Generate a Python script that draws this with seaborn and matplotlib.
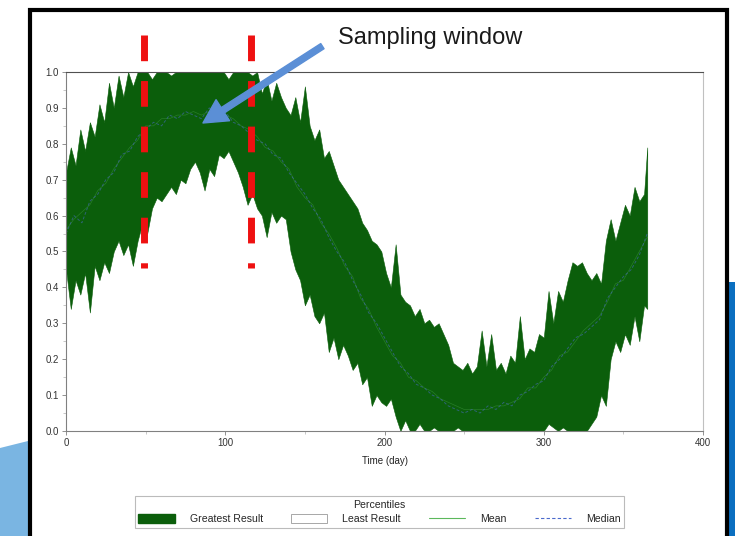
import matplotlib
matplotlib.use("Agg")
import matplotlib.pyplot as plt
from matplotlib.patches import Patch, Rectangle, Polygon
from matplotlib.lines import Line2D
import numpy as np
import pandas as pd
import seaborn as sns

sns.set_theme(style="white")
plt.rcParams["font.family"] = ["Liberation Sans", "DejaVu Sans"]

# percentile band, read every 3 days (last point is day 365)
band_days = list(range(0, 364, 3)) + [365]
greatest = [
    0.72, 0.79, 0.74, 0.84, 0.78, 0.86, 0.82, 0.91, 0.86, 0.97,
    0.90, 0.99, 0.93, 1.00, 0.96, 1.00, 1.00, 1.00, 0.98, 1.00,
    1.00, 1.00, 0.99, 1.00, 1.00, 1.00, 1.00, 1.00, 1.00, 1.00,
    1.00, 1.00, 1.00, 1.00, 0.98, 1.00, 1.00, 1.00, 1.00, 0.99,
    1.00, 0.94, 0.98, 0.92, 0.97, 0.93, 0.90, 0.88, 0.93, 0.86,
    0.96, 0.85, 0.81, 0.84, 0.76, 0.78, 0.74, 0.70, 0.68, 0.66,
    0.64, 0.62, 0.58, 0.56, 0.53, 0.52, 0.50, 0.44, 0.40, 0.52,
    0.38, 0.36, 0.35, 0.32, 0.34, 0.30, 0.31, 0.29, 0.30, 0.27,
    0.24, 0.19, 0.18, 0.17, 0.19, 0.16, 0.18, 0.28, 0.18, 0.27,
    0.17, 0.19, 0.16, 0.21, 0.19, 0.32, 0.20, 0.23, 0.22, 0.27,
    0.26, 0.39, 0.30, 0.39, 0.36, 0.42, 0.47, 0.46, 0.47, 0.44,
    0.42, 0.44, 0.41, 0.53, 0.59, 0.53, 0.58, 0.63, 0.60, 0.68,
    0.64, 0.66, 0.79,
]
least = [
    0.45, 0.34, 0.42, 0.38, 0.44, 0.33, 0.46, 0.42, 0.47, 0.44,
    0.50, 0.53, 0.49, 0.52, 0.46, 0.53, 0.58, 0.55, 0.62, 0.65,
    0.64, 0.66, 0.68, 0.66, 0.70, 0.69, 0.73, 0.75, 0.72, 0.67,
    0.73, 0.71, 0.77, 0.76, 0.78, 0.75, 0.72, 0.68, 0.63, 0.66,
    0.62, 0.60, 0.54, 0.61, 0.58, 0.60, 0.59, 0.50, 0.45, 0.42,
    0.35, 0.38, 0.32, 0.30, 0.33, 0.22, 0.26, 0.20, 0.24, 0.21,
    0.17, 0.19, 0.13, 0.15, 0.07, 0.10, 0.08, 0.07, 0.09, 0.04,
    0.00, 0.03, 0.00, 0.00, 0.02, 0.00, 0.00, 0.01, 0.00, 0.00,
    0.00, 0.00, 0.01, 0.00, 0.00, 0.00, 0.00, 0.00, 0.00, 0.00,
    0.00, 0.00, 0.00, 0.00, 0.00, 0.00, 0.00, 0.00, 0.00, 0.00,
    0.00, 0.02, 0.01, 0.00, 0.01, 0.00, 0.00, 0.00, 0.00, 0.00,
    0.02, 0.04, 0.10, 0.07, 0.20, 0.25, 0.22, 0.27, 0.24, 0.32,
    0.25, 0.35, 0.34,
]

# mean / median, read every 5 days
line_days = list(range(0, 366, 5))
median = [
    0.55, 0.60, 0.58, 0.64, 0.66, 0.70, 0.72, 0.77, 0.78, 0.82,
    0.84, 0.86, 0.85, 0.88, 0.87, 0.89, 0.88, 0.87, 0.90, 0.88,
    0.89, 0.86, 0.85, 0.83, 0.81, 0.80, 0.77, 0.76, 0.72, 0.69,
    0.66, 0.62, 0.59, 0.54, 0.50, 0.47, 0.42, 0.38, 0.33, 0.30,
    0.26, 0.22, 0.18, 0.16, 0.13, 0.12, 0.10, 0.09, 0.07, 0.06,
    0.05, 0.06, 0.05, 0.07, 0.06, 0.08, 0.07, 0.10, 0.11, 0.13,
    0.14, 0.18, 0.20, 0.23, 0.26, 0.27, 0.29, 0.31, 0.37, 0.40,
    0.43, 0.45, 0.49, 0.55,
]
mean = [
    0.56, 0.59, 0.61, 0.63, 0.67, 0.69, 0.73, 0.76, 0.79, 0.81,
    0.85, 0.85, 0.87, 0.87, 0.88, 0.88, 0.89, 0.88, 0.89, 0.89,
    0.88, 0.87, 0.85, 0.84, 0.82, 0.79, 0.78, 0.75, 0.73, 0.68,
    0.65, 0.63, 0.58, 0.55, 0.51, 0.46, 0.43, 0.37, 0.34, 0.29,
    0.25, 0.21, 0.19, 0.15, 0.14, 0.12, 0.11, 0.09, 0.08, 0.07,
    0.06, 0.06, 0.06, 0.06, 0.07, 0.07, 0.08, 0.09, 0.12, 0.12,
    0.15, 0.17, 0.21, 0.22, 0.25, 0.28, 0.30, 0.32, 0.36, 0.41,
    0.42, 0.46, 0.50, 0.54,
]

window_start, window_end = 49, 116
legend_labels = ["Greatest Result", "Least Result", "Mean", "Median"]

green = "#0b5e0b"
mean_color = "#5cb85c"
median_color = "#4a6acc"

W, H = 735, 536


def fx(x, y):
    return (x / W, 1 - y / H)


fig = plt.figure(figsize=(W / 100, H / 100), dpi=100)
fig.patch.set_facecolor("white")

# slide decorations
fig.add_artist(Polygon([fx(0, 448), fx(28, 441), fx(28, 540), fx(0, 540)],
                       closed=True, transform=fig.transFigure,
                       facecolor="#7ab5e2", edgecolor="none"))
fig.add_artist(Rectangle(fx(729, 540), 7 / W, (540 - 282) / H,
                         transform=fig.transFigure,
                         facecolor="#0b6fc0", edgecolor="none"))
fig.add_artist(Rectangle(fx(30, 545), (727 - 30) / W, (545 - 9.5) / H,
                         transform=fig.transFigure, fill=False,
                         edgecolor="black", lw=3.0))

ax = fig.add_axes([66 / W, 1 - 431 / H, 637 / W, 359 / H])

ax.fill_between(band_days, least, greatest, color=green, lw=0.4)

lines = pd.DataFrame({"day": line_days, "mean": mean, "median": median})
sns.lineplot(data=lines, x="day", y="mean", color=mean_color, lw=0.5,
             alpha=0.35, ax=ax, legend=False)
sns.lineplot(data=lines, x="day", y="median", color=median_color, lw=0.7,
             alpha=0.55, ax=ax, legend=False, linestyle=(0, (3, 2)))

ax.set_xlim(0, 400)
ax.set_ylim(0, 1)
ax.set_xticks([0, 100, 200, 300, 400])
ax.set_xticks(np.arange(50, 400, 100), minor=True)
ax.set_yticks(np.arange(0, 1.01, 0.1))
ax.set_yticks(np.arange(0.05, 1.0, 0.1), minor=True)
ax.yaxis.set_major_formatter(matplotlib.ticker.FormatStrFormatter("%.1f"))
ax.tick_params(which="major", bottom=True, left=True, length=3, width=0.6,
               color="#808080", labelsize=7, labelcolor="#333333", pad=2)
ax.tick_params(which="minor", bottom=True, left=True, length=2, width=0.5,
               color="#b0b0b0")
ax.set_xlabel("Time (day)", fontsize=7, color="#222222", labelpad=6)
ax.set_ylabel("")

for side, col in [("left", "#808080"), ("bottom", "#808080"),
                  ("top", "#505050"), ("right", "#c0c0c0")]:
    ax.spines[side].set_color(col)
    ax.spines[side].set_linewidth(0.8)

# sampling window markers
for xw in (window_start, window_end):
    ax.plot([xw, xw], [1.103, 0.455], color="#ee1111", lw=5.0,
            ls=(0, (3.7, 2.86)), dash_capstyle="butt", clip_on=False,
            zorder=5)

ax.annotate("", xy=(86, 0.858), xytext=(161, 1.072),
            arrowprops=dict(arrowstyle="simple,head_width=0.9,head_length=0.85,tail_width=0.22",
                            color="#5b8fd6", mutation_scale=20,
                            shrinkA=0, shrinkB=0),
            annotation_clip=False, zorder=6)
fig.text(338 / W, 1 - 38 / H, "Sampling window", fontsize=17,
         color="#1a1a1a", va="center", ha="left")

handles = [
    Patch(facecolor=green, edgecolor=green),
    Patch(facecolor="white", edgecolor="#999999", lw=0.6),
    Line2D([], [], color=mean_color, lw=0.8),
    Line2D([], [], color=median_color, lw=0.8, ls=(0, (3, 2))),
]
leg = fig.legend(handles, legend_labels, loc="center",
                 bbox_to_anchor=(379.5 / W, 1 - 512 / H), ncol=4,
                 title="Percentiles", fontsize=7.6, title_fontsize=7.6,
                 handlelength=3.43, handleheight=0.9, handletextpad=1.43,
                 columnspacing=2.67, borderpad=0.3, labelspacing=0.45,
                 frameon=True, fancybox=False, edgecolor="#bbbbbb",
                 framealpha=1, borderaxespad=0)
leg.get_frame().set_linewidth(0.8)

fig.savefig("out.png", dpi=100)
